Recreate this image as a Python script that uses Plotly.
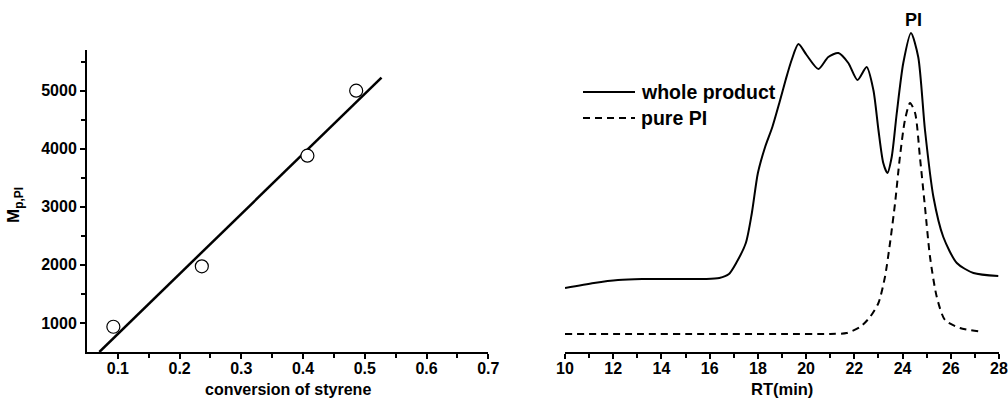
import plotly.graph_objects as go

# ---- left panel data ----
conv = [0.0927, 0.236, 0.407, 0.486]
mp_pi = [935, 1975, 3880, 5000]
fit_x = [0.070, 0.527]
fit_y = [500, 5225]
left_xticks = [0.1, 0.2, 0.3, 0.4, 0.5, 0.6, 0.7]
left_yticks = [1000, 2000, 3000, 4000, 5000]

# ---- right panel data (RT in min, detector signal in arbitrary units) ----
rt_whole = [10.0, 11.2, 12.2, 13.2, 14.5, 15.8, 16.4, 16.8, 17.1, 17.5, 17.75, 18.0, 18.3, 18.6,
            18.9, 19.15, 19.4, 19.68, 20.02, 20.51, 20.92, 21.34, 21.75, 22.13, 22.51,
            22.79, 23.0, 23.2, 23.37, 23.55, 23.76, 24.03, 24.35, 24.65, 24.93, 25.28,
            25.69, 26.25, 26.94, 27.97]
sig_whole = [64, 69, 72, 73, 73, 73, 74, 78, 89, 109, 139, 179, 205, 225,
             250, 272, 292, 308, 297, 283, 295, 299, 289, 272, 285,
             262, 222, 189, 179, 195, 239, 289, 319, 295, 222, 155,
             115, 89, 79, 76]
rt_pure = [10.0, 13.0, 16.0, 19.0, 21.0, 21.68, 22.24, 22.65, 23.0, 23.27, 23.48, 23.69,
           23.89, 24.1, 24.31, 24.52, 24.72, 24.93, 25.14, 25.42, 25.76, 26.38, 27.35]
sig_pure = [18, 18, 18, 18, 18, 19, 25, 35, 49, 75, 109, 149,
            195, 232, 249, 239, 195, 145, 95, 55, 32, 24, 20]
right_xticks = [10, 12, 14, 16, 18, 20, 22, 24, 26, 28]

FONT = "Liberation Sans, Arial, sans-serif"
W, H = 1008, 408

fig = go.Figure()

fig.add_trace(go.Scatter(x=fit_x, y=fit_y, mode="lines",
                         line=dict(color="black", width=2.5),
                         xaxis="x", yaxis="y", showlegend=False))
fig.add_trace(go.Scatter(x=conv, y=mp_pi, mode="markers",
                         marker=dict(symbol="circle", size=13, color="white",
                                     line=dict(color="black", width=1.2)),
                         xaxis="x", yaxis="y", showlegend=False))

fig.add_trace(go.Scatter(x=rt_whole, y=sig_whole, mode="lines",
                         line=dict(color="black", width=2, shape="spline", smoothing=0.7),
                         xaxis="x2", yaxis="y2", showlegend=False))
fig.add_trace(go.Scatter(x=rt_pure, y=sig_pure, mode="lines",
                         line=dict(color="black", width=2, dash="7px,5px",
                                   shape="spline", smoothing=0.7),
                         xaxis="x2", yaxis="y2", showlegend=False))

axis_common = dict(showgrid=False, zeroline=False, showline=True, linecolor="black",
                   linewidth=2, ticks="outside", tickwidth=2, tickcolor="black",
                   ticklen=5, automargin=False,
                   tickfont=dict(family=FONT, size=16, color="black"))


def px_x(p):
    return p / W


def px_y(p):
    return 1 - p / H


def bold(vals, fmt="{}"):
    return ["<b>" + fmt.format(v) + "</b>" for v in vals]


fig.update_layout(
    width=W, height=H,
    margin=dict(l=0, r=0, t=0, b=0),
    paper_bgcolor="white", plot_bgcolor="white",
    xaxis=dict(axis_common, domain=[px_x(87), px_x(488.3)], range=[0.05, 0.7],
               tickvals=left_xticks, ticktext=bold(left_xticks, "{:.1f}"),
               ticklabelstandoff=-4,
               minor=dict(tickvals=[0.15, 0.25, 0.35, 0.45, 0.55, 0.65], ticklen=4,
                          tickwidth=2, tickcolor="black", ticks="outside"),
               anchor="y"),
    yaxis=dict(axis_common, domain=[px_y(352), px_y(50)], range=[500, 5700],
               tickvals=left_yticks, ticktext=bold(left_yticks),
               minor=dict(tickvals=[1500, 2500, 3500, 4500, 5500], ticklen=4,
                          tickwidth=2, tickcolor="black", ticks="outside"),
               anchor="x"),
    xaxis2=dict(axis_common, domain=[px_x(565), px_x(999)], range=[10, 28],
                tickvals=right_xticks, ticktext=bold(right_xticks),
                ticklabelstandoff=-4,
                minor=dict(tickvals=[11, 13, 15, 17, 19, 21, 23, 25, 27], ticklen=4,
                           tickwidth=2, tickcolor="black", ticks="outside"),
                anchor="y2"),
    yaxis2=dict(domain=[px_y(352), 1.0], range=[0, 352], visible=False, anchor="x2"),
)


def txt(x, y, s, size, xanchor="center", yanchor="middle", angle=0):
    fig.add_annotation(x=px_x(x), y=px_y(y), xref="paper", yref="paper",
                       text="<b>" + s + "</b>",
                       showarrow=False, xanchor=xanchor, yanchor=yanchor, textangle=angle,
                       font=dict(family=FONT, size=size, color="black"))


txt(287.5, 389, "conversion of styrene", 16)
txt(782, 389, "RT(min)", 16.5)
txt(15, 205, "M<sub>p,PI</sub>", 17, angle=-90)
txt(913, 20, "PI", 18)
txt(639, 92, "whole product", 19.5, xanchor="left")
txt(639, 118, "pure PI", 19.5, xanchor="left")

fig.add_shape(type="line", xref="paper", yref="paper",
              x0=px_x(583), x1=px_x(635), y0=px_y(92), y1=px_y(92),
              line=dict(color="black", width=2))
fig.add_shape(type="line", xref="paper", yref="paper",
              x0=px_x(583), x1=px_x(635), y0=px_y(118), y1=px_y(118),
              line=dict(color="black", width=2, dash="7px,5px"))

fig.write_html("out.html")
